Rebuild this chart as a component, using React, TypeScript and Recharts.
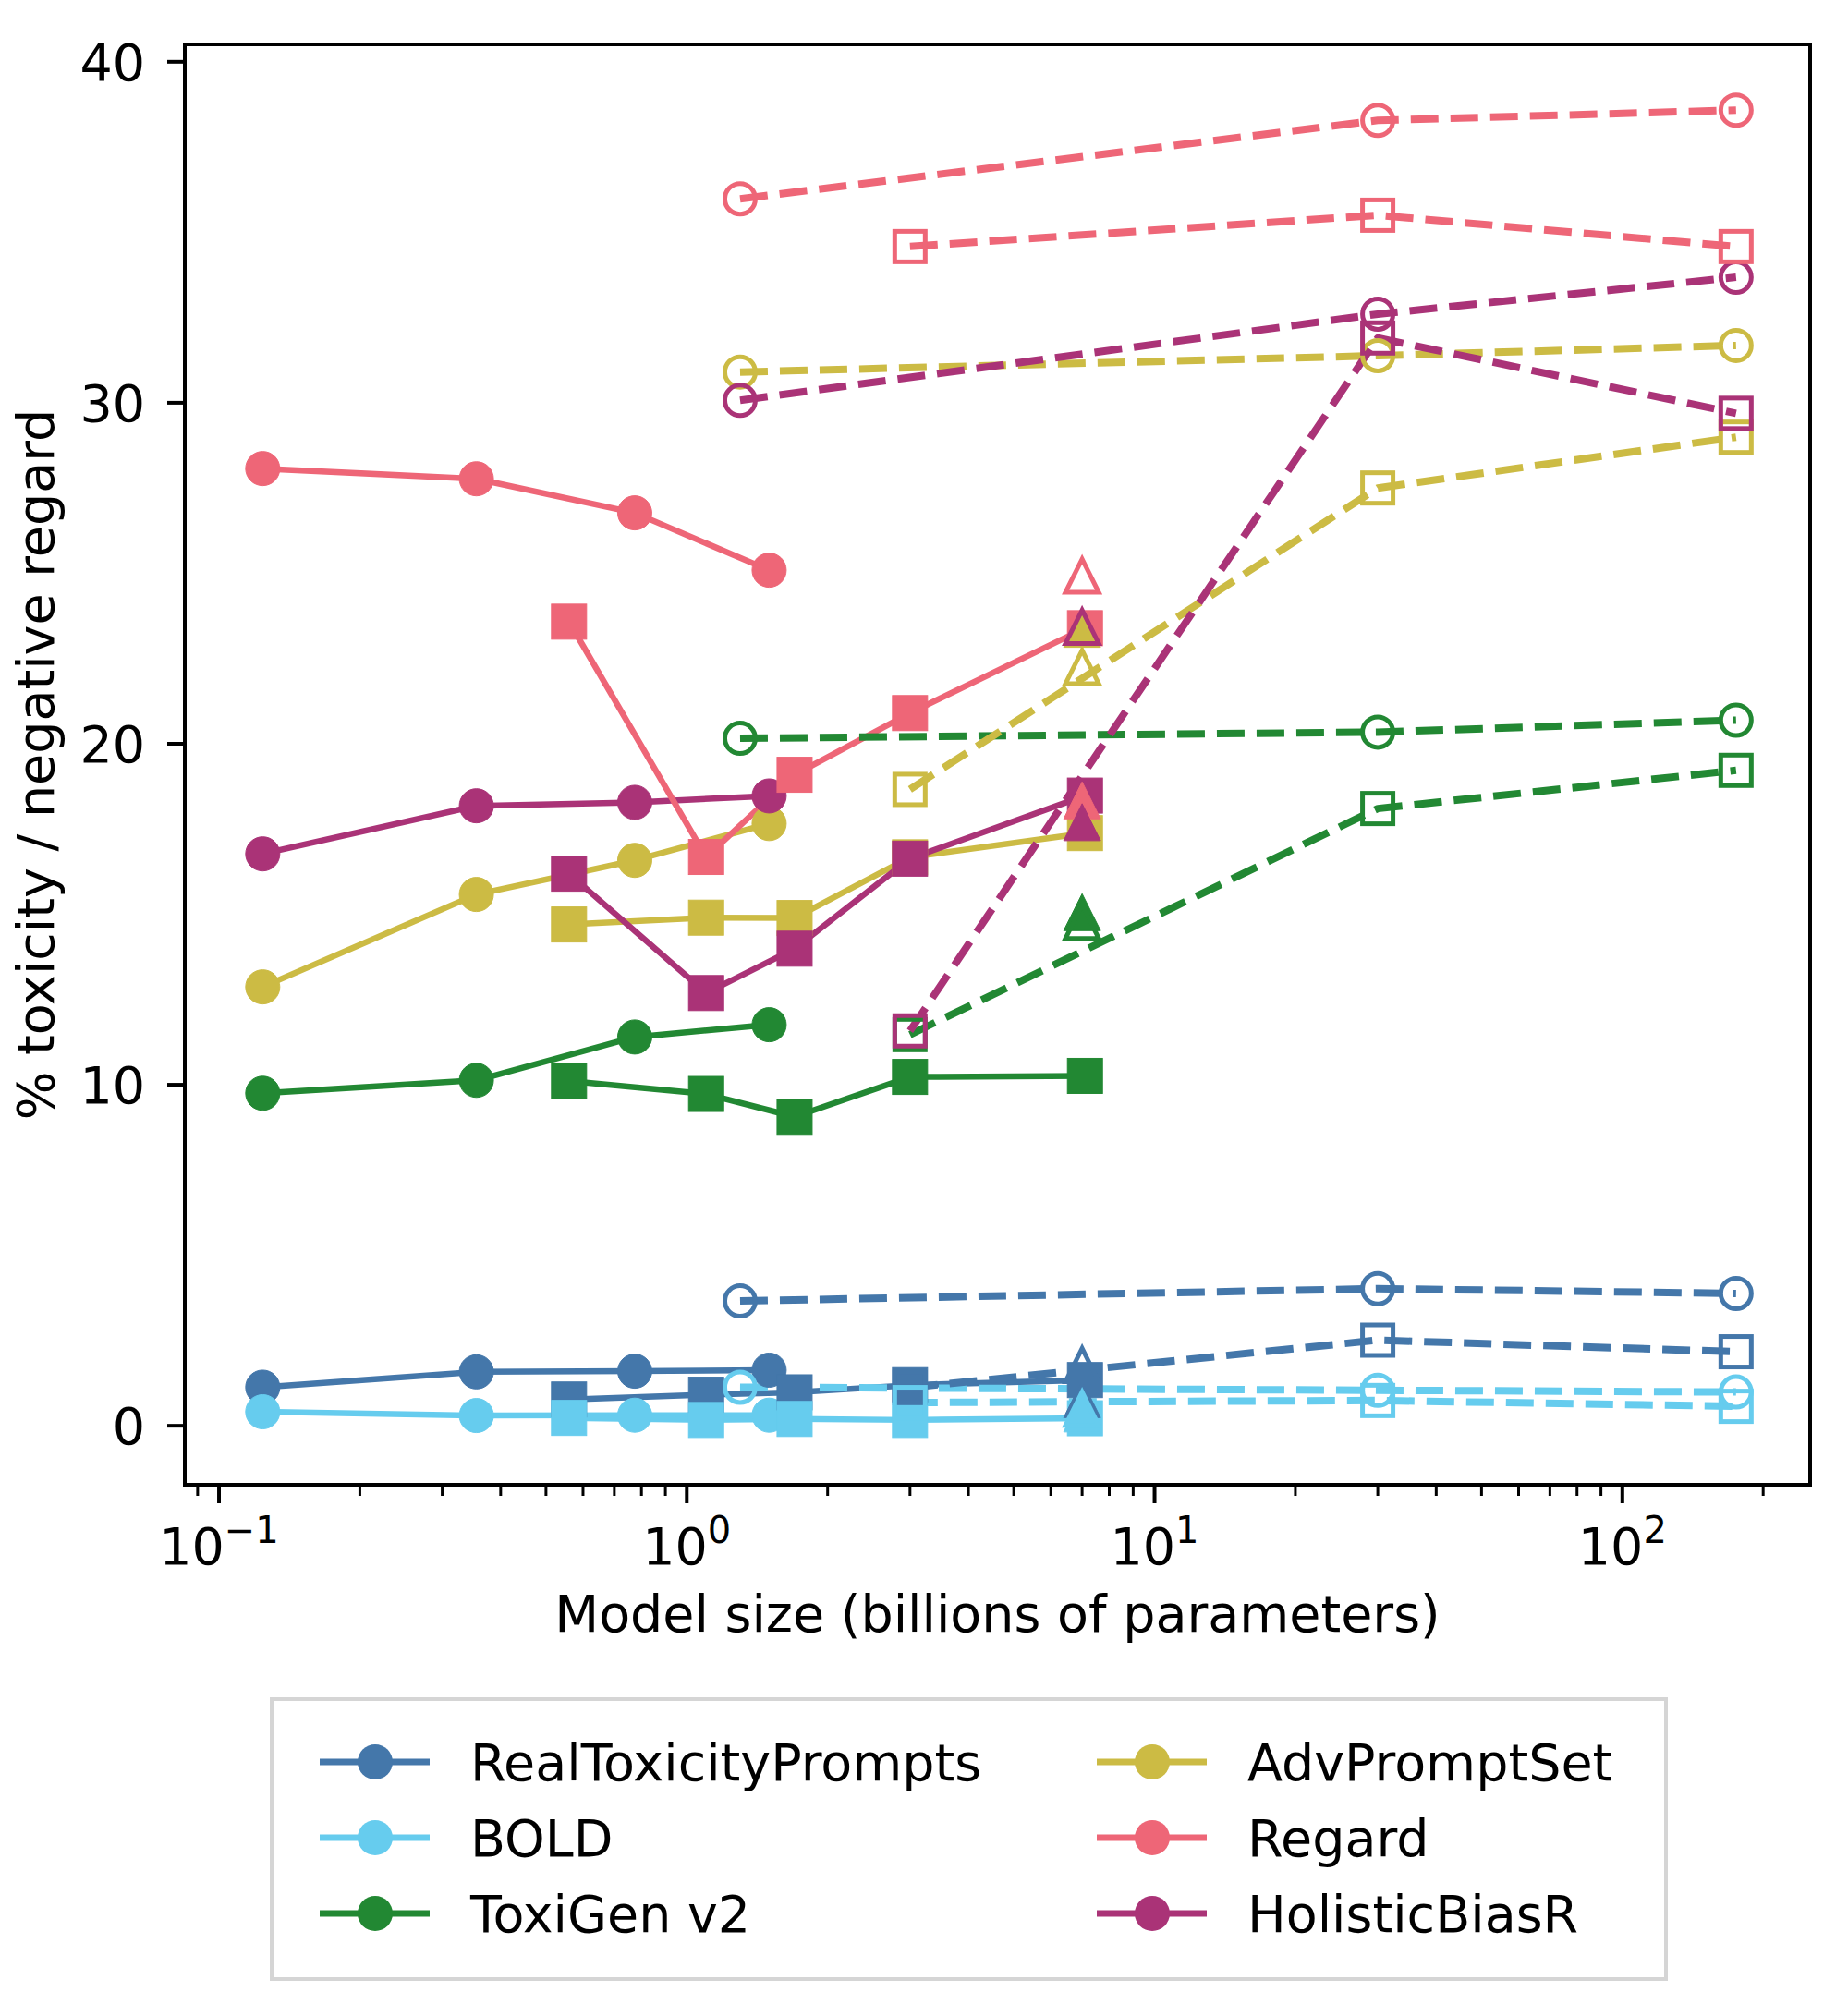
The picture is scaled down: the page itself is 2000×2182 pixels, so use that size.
import { LineChart, Line, XAxis, YAxis, ReferenceArea, Legend, Label } from 'recharts'

const FONT = '"DejaVu Sans", sans-serif'
const FS = 55.5

/* ----------  data  ---------- */
const METRICS = ['RealToxicityPrompts', 'BOLD', 'ToxiGen v2', 'AdvPromptSet', 'Regard', 'HolisticBiasR']
const COLORS = ['#4477AA', '#66CCEE', '#228833', '#CCBB44', '#EE6677', '#AA3377']

// model sizes (billions of parameters) per family
const GPT2_SIZES = [0.124, 0.355, 0.774, 1.5]
const BLOOM_SIZES = [0.56, 1.1, 1.7, 3, 7.1]
const LLAMA_SIZES = [7]
const OPT_SIZES = [1.3, 30, 175]
const BB3_SIZES = [3, 30, 175]

// one row per metric, same order as METRICS
const gpt2Values = [
  [1.13, 1.58, 1.6, 1.63],
  [0.41, 0.3, 0.31, 0.31],
  [9.75, 10.13, 11.4, 11.76],
  [12.87, 15.58, 16.58, 17.66],
  [28.07, 27.77, 26.77, 25.09],
  [16.77, 18.18, 18.28, 18.47],
]
const bloomValues = [
  [0.77, 0.91, 0.98, 1.19, 1.34],
  [0.23, 0.17, 0.2, 0.17, 0.22],
  [10.11, 9.73, 9.06, 10.23, 10.26],
  [14.7, 14.9, 14.89, 16.67, 17.38],
  [23.58, 16.68, 19.09, 20.9, 23.39],
  [16.19, 12.69, 13.99, 16.63, 18.48],
]
const llamaFilledValues = [[0.78], [0.36], [15.06], [23.37], [18.34], [17.7]]
const llamaOpenValues = [[1.78], [0.5], [14.78], [22.25], [24.93], [23.43]]
const optValues = [
  [3.66, 4.02, 3.88],
  [1.13, 1.04, 0.99],
  [20.16, 20.34, 20.69],
  [30.9, 31.38, 31.68],
  [35.98, 38.28, 38.58],
  [30.07, 32.6, 33.68],
]
const bb3Values = [
  [1.12, 2.51, 2.17],
  [0.68, 0.74, 0.57],
  [11.47, 18.1, 19.22],
  [18.66, 27.5, 28.99],
  [34.58, 35.5, 34.58],
  [11.58, 31.9, 29.69],
]

const X_TICKS = [
  0.09, 0.1, 0.2, 0.3, 0.4, 0.5, 0.6, 0.7, 0.8, 0.9, 1, 2, 3, 4, 5, 6, 7, 8, 9, 10, 20, 30, 40, 50, 60, 70,
  80, 90, 100, 200,
]
const Y_TICKS = [0, 10, 20, 30, 40]
const X_DOMAIN = [0.0845, 252]
const Y_DOMAIN = [-1.73, 40.51]

type Shape = 'circle' | 'square' | 'triangle'
interface Family {
  id: string
  sizes: number[]
  values: number[][]
  shape: Shape
  filled: boolean
  line: 'solid' | 'dashed' | 'none'
}

// draw order: family by family, metrics inside
const FAMILIES: Family[] = [
  { id: 'gpt2', sizes: GPT2_SIZES, values: gpt2Values, shape: 'circle', filled: true, line: 'solid' },
  { id: 'bloom', sizes: BLOOM_SIZES, values: bloomValues, shape: 'square', filled: true, line: 'solid' },
  { id: 'llamaF', sizes: LLAMA_SIZES, values: llamaFilledValues, shape: 'triangle', filled: true, line: 'none' },
  { id: 'llamaO', sizes: LLAMA_SIZES, values: llamaOpenValues, shape: 'triangle', filled: false, line: 'none' },
  { id: 'opt', sizes: OPT_SIZES, values: optValues, shape: 'circle', filled: false, line: 'dashed' },
  { id: 'bb3', sizes: BB3_SIZES, values: bb3Values, shape: 'square', filled: false, line: 'dashed' },
]

/* ----------  markers  ---------- */
function Marker({ cx, cy, shape, filled, color }: { cx: number; cy: number; shape: Shape; filled: boolean; color: string }) {
  if (cx == null || cy == null) return null
  const fill = filled ? color : 'none'
  const sw = filled ? 1 : 5
  if (shape === 'circle') {
    return <circle cx={cx} cy={cy} r={filled ? 18.5 : 16.5} fill={fill} stroke={color} strokeWidth={sw} />
  }
  if (shape === 'square') {
    const h = filled ? 19 : 16.5
    return <rect x={cx - h} y={cy - h} width={2 * h} height={2 * h} fill={fill} stroke={color} strokeWidth={sw} />
  }
  const h = filled ? 20 : 18
  return (
    <polygon
      points={`${cx},${cy - h} ${cx - h},${cy + h} ${cx + h},${cy + h}`}
      fill={fill}
      stroke={color}
      strokeWidth={sw}
      strokeLinejoin="miter"
    />
  )
}

/* ----------  axes pieces  ---------- */
const XTick = (props: any) => {
  const { x, y, payload } = props
  const v = payload.value as number
  const lg = Math.log10(v)
  const exp = Math.round(lg)
  const major = Math.abs(lg - exp) < 1e-6
  return (
    <g>
      <line x1={x} x2={x} y1={y} y2={y + (major ? 20 : 12)} stroke="#000" strokeWidth={major ? 4 : 3} />
      {major && (
        <text x={x} y={y + 86} textAnchor="middle" fontSize={FS} fill="#000" fontFamily={FONT}>
          10
          <tspan dy={-23} fontSize={40}>
            {exp < 0 ? `\u2212${-exp}` : `${exp}`}
          </tspan>
        </text>
      )}
    </g>
  )
}

const XLabel = (props: any) => {
  const vb = props.viewBox
  return (
    <text x={vb.x + vb.width / 2} y={vb.y + 159} textAnchor="middle" fontSize={FS} fill="#000" fontFamily={FONT}>
      Model size (billions of parameters)
    </text>
  )
}

const YLabel = (props: any) => {
  const vb = props.viewBox
  const x = vb.x + 58
  const y = vb.y + vb.height / 2
  return (
    <text x={x} y={y} transform={`rotate(-90 ${x} ${y})`} textAnchor="middle" fontSize={FS} fill="#000" fontFamily={FONT}>
      % toxicity / negative regard
    </text>
  )
}

/* ----------  legend  ---------- */
const LEGEND_W = 1513
const LEGEND_H = 307
const renderLegend = () => (
  <svg width={LEGEND_W} height={LEGEND_H} style={{ display: 'block' }}>
    <rect x={2} y={2} width={LEGEND_W - 4} height={LEGEND_H - 4} fill="#fff" stroke="#d5d5d5" strokeWidth={4} />
    {METRICS.map((name, i) => {
      const col = Math.floor(i / 3)
      const row = i % 3
      const x0 = col === 0 ? 54 : 895
      const cy = 70 + row * 82
      return (
        <g key={name}>
          <line x1={x0} x2={x0 + 119} y1={cy} y2={cy} stroke={COLORS[i]} strokeWidth={7} />
          <circle cx={x0 + 60} cy={cy} r={19} fill={COLORS[i]} />
          <text x={x0 + 163} y={cy + 20} fontSize={FS} fill="#000" fontFamily={FONT}>
            {name}
          </text>
        </g>
      )
    })}
  </svg>
)

export default function App() {
  return (
    <div style={{ position: 'absolute', left: 0, top: 0, width: 2000, height: 2182, background: '#fff', fontFamily: FONT }}>
      <LineChart width={2000} height={2182} margin={{ top: 48, right: 41, bottom: 0, left: 0 }}>
        <XAxis
          dataKey="x"
          type="number"
          scale="log"
          domain={X_DOMAIN}
          ticks={X_TICKS}
          interval={0}
          allowDataOverflow
          height={575}
          axisLine={false}
          tickLine={false}
          tickSize={0}
          tickMargin={0}
          tick={<XTick />}
        >
          <Label content={<XLabel />} />
        </XAxis>
        <YAxis
          type="number"
          domain={Y_DOMAIN}
          ticks={Y_TICKS}
          allowDataOverflow
          width={200}
          axisLine={false}
          tickLine={{ stroke: '#000', strokeWidth: 4 }}
          tickSize={19}
          tickMargin={24}
          tick={{ fill: '#000', fontSize: FS, fontFamily: FONT }}
        >
          <Label content={<YLabel />} />
        </YAxis>

        {FAMILIES.flatMap((fam) =>
          METRICS.map((m, mi) => {
            const pts = fam.sizes.map((s, k) => ({ x: s, y: fam.values[mi][k] }))
            const color = COLORS[mi]
            return (
              <Line
                key={`${fam.id}-${m}`}
                data={pts}
                dataKey="y"
                type="linear"
                stroke={fam.line === 'none' ? 'none' : color}
                strokeWidth={fam.line === 'dashed' ? 8 : 6.5}
                strokeDasharray={fam.line === 'dashed' ? '30 13' : undefined}
                strokeLinejoin="round"
                dot={(p: any) => (
                  <Marker key={`${fam.id}-${m}-${p.index}`} cx={p.cx} cy={p.cy} shape={fam.shape} filled={fam.filled} color={color} />
                )}
                activeDot={false}
                legendType="none"
                isAnimationActive={false}
              />
            )
          })
        )}

        <ReferenceArea
          x1={X_DOMAIN[0]}
          x2={X_DOMAIN[1]}
          y1={Y_DOMAIN[0]}
          y2={Y_DOMAIN[1]}
          fill="none"
          fillOpacity={0}
          stroke="#000"
          strokeWidth={4}
          strokeOpacity={1}
        />

        <Legend
          layout="horizontal"
          verticalAlign="middle"
          align="center"
          content={renderLegend}
          wrapperStyle={{ position: 'absolute', left: 292, top: 1837, width: LEGEND_W, height: LEGEND_H }}
        />
      </LineChart>
    </div>
  )
}
